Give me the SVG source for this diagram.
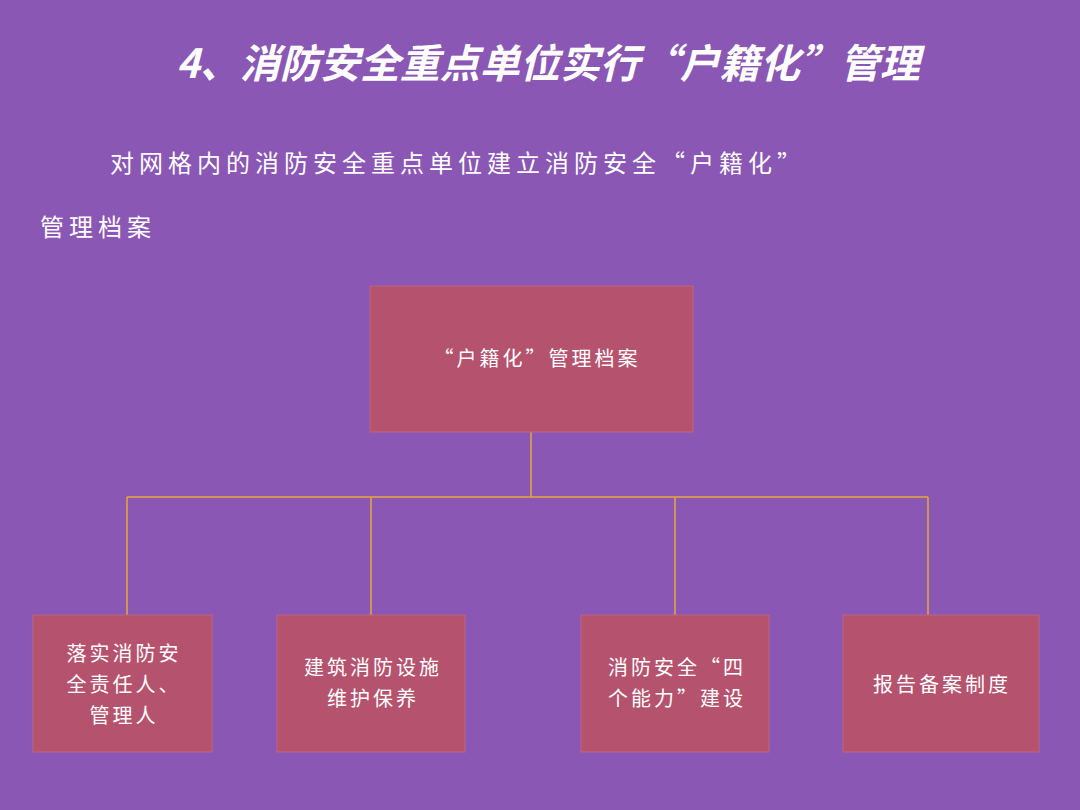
<svg xmlns="http://www.w3.org/2000/svg" width="1080" height="810" viewBox="0 0 1080 810">
<style>
.t{font-family:"Noto Sans CJK SC","Liberation Sans",sans-serif;fill:#fff}
.b{fill:#b5536f;stroke:#c0657e;stroke-width:1}
.n{font-size:20px;letter-spacing:3px;text-anchor:middle}
.c{stroke:#e8a73a;stroke-width:1.5;fill:none}
</style>
<rect width="1080" height="810" fill="#8b57b4"/>
<text class="t" x="548" y="78" font-size="40" font-weight="bold" font-style="italic" text-anchor="middle">4、消防安全重点单位实行“户籍化”管理</text>
<text class="t" x="110" y="172" font-size="24" letter-spacing="5">对网格内的消防安全重点单位建立消防安全“户籍化”</text>
<text class="t" x="40" y="236" font-size="24" letter-spacing="5">管理档案</text>
<g id="connectors">
<path class="c" d="M531 432V497M127 497H928M127 497V615M371 497V615M675 497V615M928 497V615"/>
</g>
<g id="root"><rect class="b" x="370" y="286" width="323" height="146"/><text class="t n" x="537" y="366">“户籍化”管理档案</text></g>
<g id="n1"><rect class="b" x="33" y="615" width="179" height="137"/><text class="t n" x="124" y="661">落实消防安</text><text class="t n" x="124" y="692">全责任人、</text><text class="t n" x="124" y="723">管理人</text></g>
<g id="n2"><rect class="b" x="277" y="615" width="188" height="137"/><text class="t n" x="373" y="675">建筑消防设施</text><text class="t n" x="373" y="706">维护保养</text></g>
<g id="n3"><rect class="b" x="581" y="615" width="188" height="137"/><text class="t n" x="677" y="675">消防安全“四</text><text class="t n" x="677" y="706">个能力”建设</text></g>
<g id="n4"><rect class="b" x="843" y="615" width="196" height="137"/><text class="t n" x="942" y="692">报告备案制度</text></g>
</svg>
